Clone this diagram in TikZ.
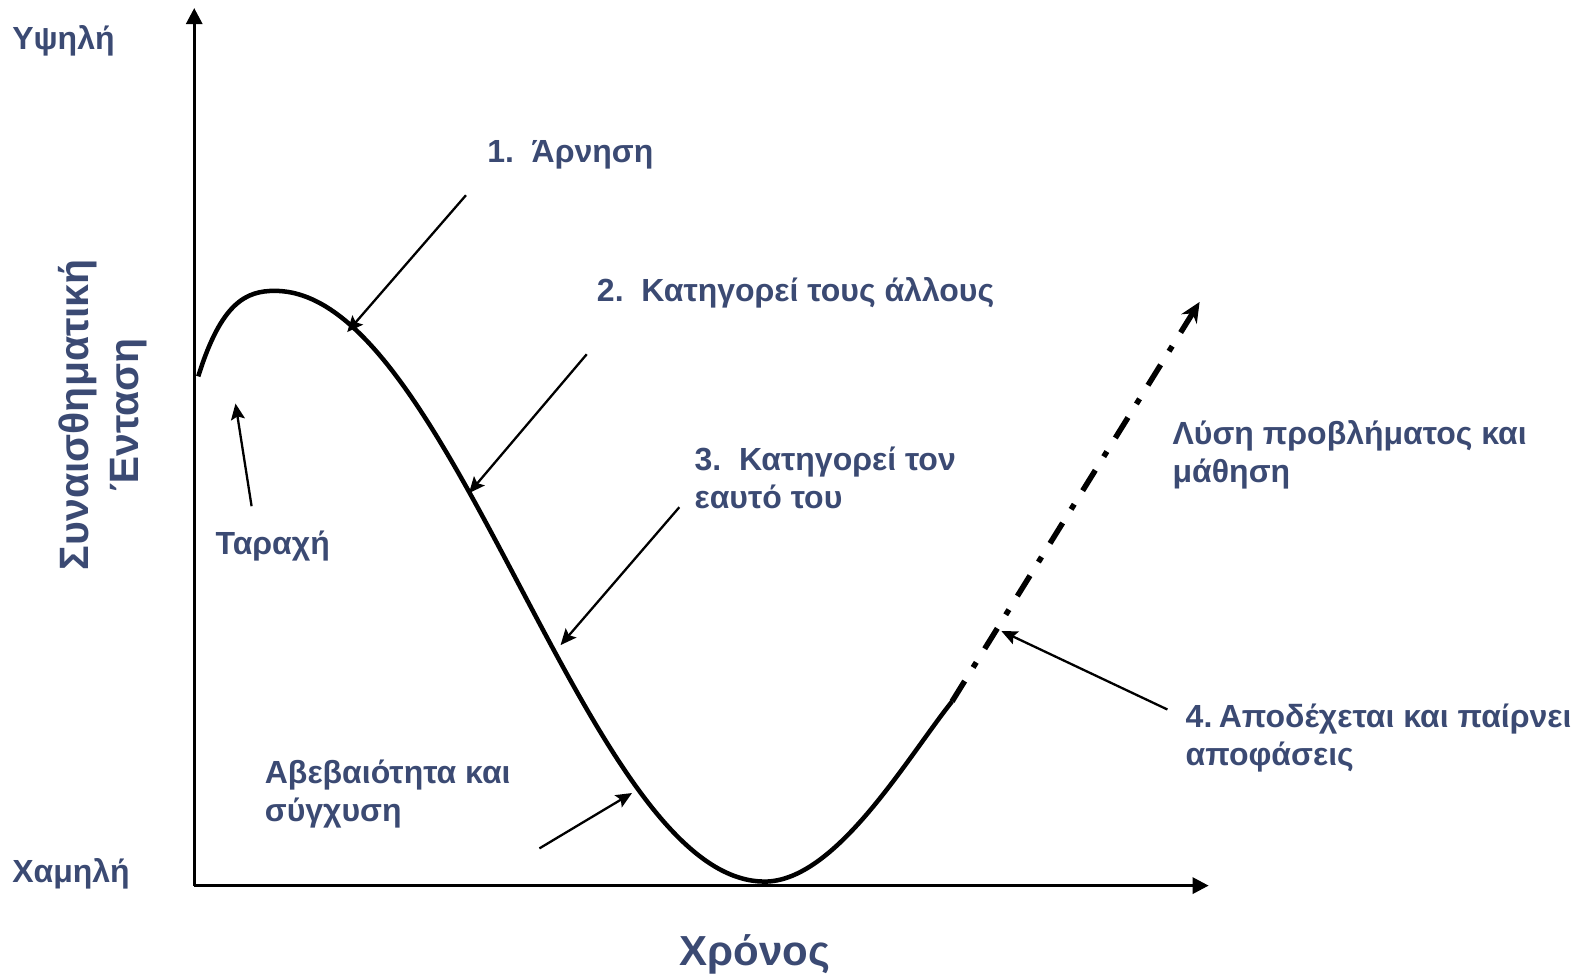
\documentclass[tikz,border=0pt]{standalone}
\usepackage{fontspec}
\setmainfont{Liberation Sans}
\usetikzlibrary{arrows.meta}
\definecolor{lbl}{HTML}{3B4A73}
\tikzset{
  lab/.style={font=\bfseries\fontsize{32}{38}\selectfont, text=lbl, inner sep=0pt, anchor=base west, align=left},
  axis/.style={line width=3pt, -{Triangle[width=16pt,length=16pt]}},
  pointer/.style={line width=2.3pt, -{Stealth[length=16pt,width=14pt,inset=3pt]}},
  curve/.style={line width=4.5pt},
  dashdot/.style={line width=5.5pt, dash pattern=on 24pt off 16pt on 6pt off 16pt, -{Stealth[length=20pt,width=18pt]}}
}
\begin{document}
\begin{tikzpicture}[x=1.0064pt,y=-1.0064pt]
\useasboundingbox (0,0) rectangle (1568,971);
% axes
\coordinate (O) at (193,880);
\coordinate (ytop) at (193,8);
\coordinate (xend) at (1201,880);
\draw[axis] (O) -- (ytop);
\draw[axis] (O) -- (xend);
% curve
\coordinate (c0) at (197,374);
\coordinate (cend) at (946,697);
\coordinate (dtip) at (1192,300);
\draw[curve] (c0) .. controls (220,300) and (245,289) .. (273,289)
  -- plot[domain=0:1,samples=80,smooth] ({273+487*\x},{289+587*(1-cos(180*\x))/2})
  .. controls (830,876) and (900,755) .. (cend);
\draw[dashdot] (cend) -- (dtip);
% labels
\node[lab] (high) at (12,49) {Υψηλή};
\node[lab] (low) at (12,877) {Χαμηλή};
\node[lab, rotate=90, anchor=center, align=center, font=\bfseries\fontsize{41}{50}\selectfont] (ylab) at (102,412) {Συναισθηματική\\Ένταση};
\node[lab, anchor=center, font=\bfseries\fontsize{42}{46}\selectfont] (xlab) at (750,948) {Χρόνος};
\node[lab] (l1) at (484,161) {1.\ \ Άρνηση};
\node[lab] (l2) at (593,300) {2.\ \ Κατηγορεί τους άλλους};
\node[lab] (l3) at (690,505) {3.\ \ Κατηγορεί τον\\εαυτό του};
\node[lab] (ltar) at (214,551) {Ταραχή};
\node[lab] (lab) at (263,816) {Αβεβαιότητα και\\σύγχυση};
\node[lab] (llys) at (1165,479) {Λύση προβλήματος και\\μάθηση};
\node[lab] (l4) at (1178,761) {4.\hspace{0.2em}Αποδέχεται και παίρνει\\αποφάσεις};
% pointer coordinates
\coordinate (s1) at (463,194); \coordinate (e1) at (345,330);
\coordinate (s2) at (583,352); \coordinate (e2) at (466,490);
\coordinate (s3) at (675,504); \coordinate (e3) at (557,641);
\coordinate (st) at (250,503); \coordinate (et) at (234,401);
\coordinate (sa) at (536,843); \coordinate (ea) at (628,788);
\coordinate (s4) at (1160,705); \coordinate (e4) at (995,627);
\draw[pointer] (s1) -- (e1);
\draw[pointer] (s2) -- (e2);
\draw[pointer] (s3) -- (e3);
\draw[pointer] (st) -- (et);
\draw[pointer] (sa) -- (ea);
\draw[pointer] (s4) -- (e4);
\end{tikzpicture}
\end{document}
